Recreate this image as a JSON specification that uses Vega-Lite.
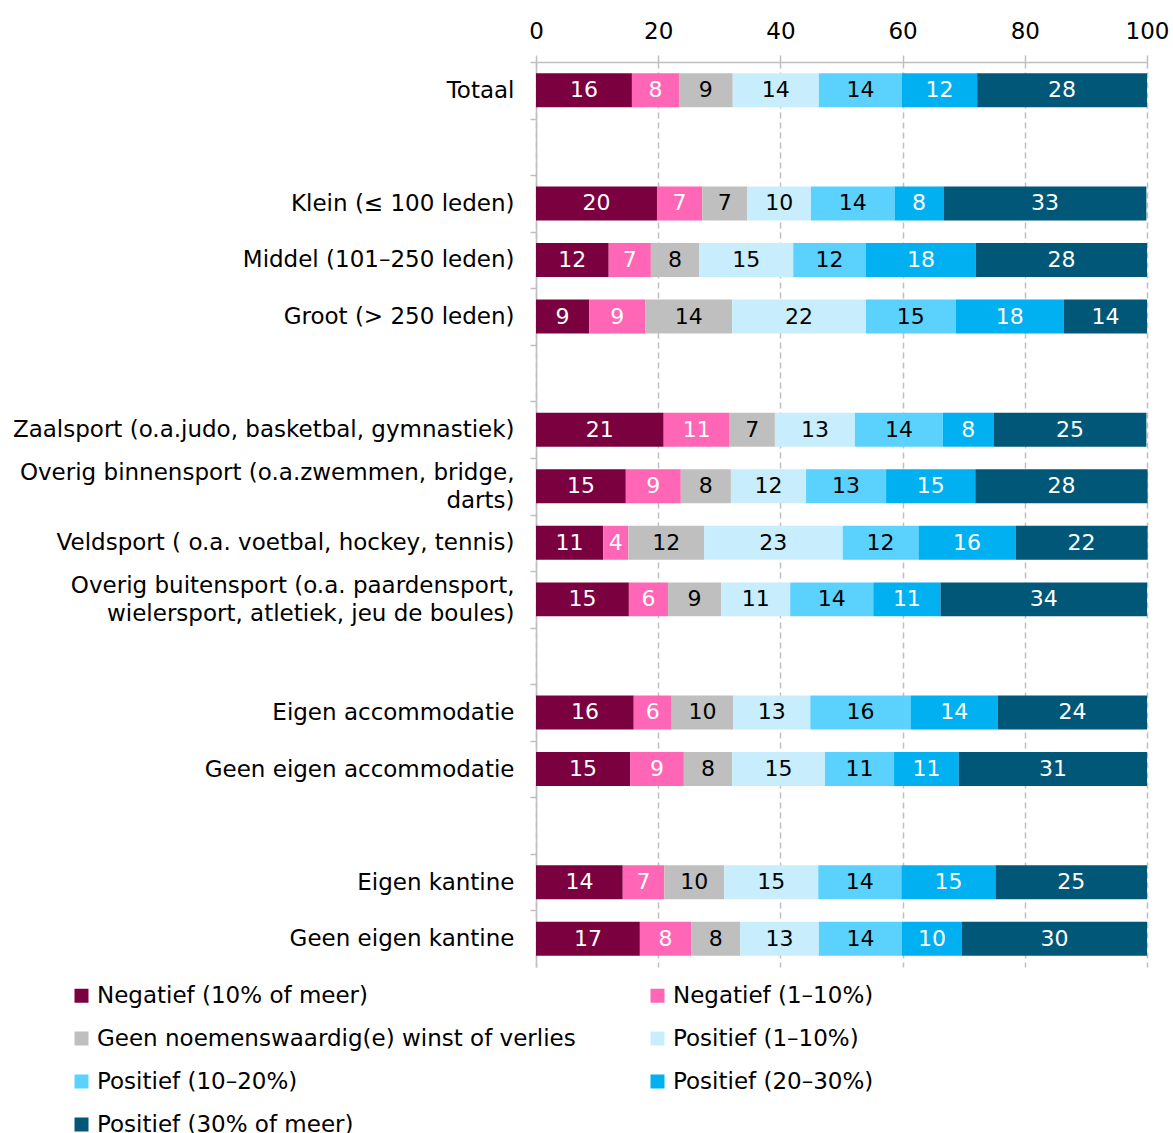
{
  "$schema": "https://vega.github.io/schema/vega-lite/v6.json",
  "autosize": "none",
  "width": 611,
  "height": 905,
  "padding": {"left": 536, "top": 62, "right": 26, "bottom": 166},
  "background": "white",
  "config": {
    "font": "DejaVu Sans",
    "view": {"stroke": null}
  },
  "data": {
    "values": [
      {"g": "Totaal", "k": 1, "v": 15.7}, {"g": "Totaal", "k": 2, "v": 7.7}, {"g": "Totaal", "k": 3, "v": 8.8}, {"g": "Totaal", "k": 4, "v": 14.1}, {"g": "Totaal", "k": 5, "v": 13.6}, {"g": "Totaal", "k": 6, "v": 12.3}, {"g": "Totaal", "k": 7, "v": 27.8},
      {"g": "Klein (≤ 100 leden)", "k": 1, "v": 19.8}, {"g": "Klein (≤ 100 leden)", "k": 2, "v": 7.4}, {"g": "Klein (≤ 100 leden)", "k": 3, "v": 7.4}, {"g": "Klein (≤ 100 leden)", "k": 4, "v": 10.4}, {"g": "Klein (≤ 100 leden)", "k": 5, "v": 13.7}, {"g": "Klein (≤ 100 leden)", "k": 6, "v": 8.0}, {"g": "Klein (≤ 100 leden)", "k": 7, "v": 33.2},
      {"g": "Middel (101–250 leden)", "k": 1, "v": 11.9}, {"g": "Middel (101–250 leden)", "k": 2, "v": 6.9}, {"g": "Middel (101–250 leden)", "k": 3, "v": 7.9}, {"g": "Middel (101–250 leden)", "k": 4, "v": 15.4}, {"g": "Middel (101–250 leden)", "k": 5, "v": 11.9}, {"g": "Middel (101–250 leden)", "k": 6, "v": 18.0}, {"g": "Middel (101–250 leden)", "k": 7, "v": 28.0},
      {"g": "Groot (> 250 leden)", "k": 1, "v": 8.7}, {"g": "Groot (> 250 leden)", "k": 2, "v": 9.2}, {"g": "Groot (> 250 leden)", "k": 3, "v": 14.2}, {"g": "Groot (> 250 leden)", "k": 4, "v": 21.9}, {"g": "Groot (> 250 leden)", "k": 5, "v": 14.7}, {"g": "Groot (> 250 leden)", "k": 6, "v": 17.7}, {"g": "Groot (> 250 leden)", "k": 7, "v": 13.6},
      {"g": "Zaalsport (o.a.judo, basketbal, gymnastiek)", "k": 1, "v": 20.9}, {"g": "Zaalsport (o.a.judo, basketbal, gymnastiek)", "k": 2, "v": 10.8}, {"g": "Zaalsport (o.a.judo, basketbal, gymnastiek)", "k": 3, "v": 7.4}, {"g": "Zaalsport (o.a.judo, basketbal, gymnastiek)", "k": 4, "v": 13.1}, {"g": "Zaalsport (o.a.judo, basketbal, gymnastiek)", "k": 5, "v": 14.4}, {"g": "Zaalsport (o.a.judo, basketbal, gymnastiek)", "k": 6, "v": 8.3}, {"g": "Zaalsport (o.a.judo, basketbal, gymnastiek)", "k": 7, "v": 25.0},
      {"g": "Overig binnensport (o.a.zwemmen, bridge,|darts)", "k": 1, "v": 14.7}, {"g": "Overig binnensport (o.a.zwemmen, bridge,|darts)", "k": 2, "v": 9.0}, {"g": "Overig binnensport (o.a.zwemmen, bridge,|darts)", "k": 3, "v": 8.2}, {"g": "Overig binnensport (o.a.zwemmen, bridge,|darts)", "k": 4, "v": 12.3}, {"g": "Overig binnensport (o.a.zwemmen, bridge,|darts)", "k": 5, "v": 13.1}, {"g": "Overig binnensport (o.a.zwemmen, bridge,|darts)", "k": 6, "v": 14.6}, {"g": "Overig binnensport (o.a.zwemmen, bridge,|darts)", "k": 7, "v": 28.2},
      {"g": "Veldsport ( o.a. voetbal, hockey, tennis)", "k": 1, "v": 11.0}, {"g": "Veldsport ( o.a. voetbal, hockey, tennis)", "k": 2, "v": 4.1}, {"g": "Veldsport ( o.a. voetbal, hockey, tennis)", "k": 3, "v": 12.4}, {"g": "Veldsport ( o.a. voetbal, hockey, tennis)", "k": 4, "v": 22.7}, {"g": "Veldsport ( o.a. voetbal, hockey, tennis)", "k": 5, "v": 12.4}, {"g": "Veldsport ( o.a. voetbal, hockey, tennis)", "k": 6, "v": 15.9}, {"g": "Veldsport ( o.a. voetbal, hockey, tennis)", "k": 7, "v": 21.6},
      {"g": "Overig buitensport (o.a. paardensport,|wielersport, atletiek, jeu de boules)", "k": 1, "v": 15.2}, {"g": "Overig buitensport (o.a. paardensport,|wielersport, atletiek, jeu de boules)", "k": 2, "v": 6.4}, {"g": "Overig buitensport (o.a. paardensport,|wielersport, atletiek, jeu de boules)", "k": 3, "v": 8.7}, {"g": "Overig buitensport (o.a. paardensport,|wielersport, atletiek, jeu de boules)", "k": 4, "v": 11.3}, {"g": "Overig buitensport (o.a. paardensport,|wielersport, atletiek, jeu de boules)", "k": 5, "v": 13.6}, {"g": "Overig buitensport (o.a. paardensport,|wielersport, atletiek, jeu de boules)", "k": 6, "v": 11.0}, {"g": "Overig buitensport (o.a. paardensport,|wielersport, atletiek, jeu de boules)", "k": 7, "v": 33.8},
      {"g": "Eigen accommodatie", "k": 1, "v": 16.0}, {"g": "Eigen accommodatie", "k": 2, "v": 6.2}, {"g": "Eigen accommodatie", "k": 3, "v": 10.1}, {"g": "Eigen accommodatie", "k": 4, "v": 12.6}, {"g": "Eigen accommodatie", "k": 5, "v": 16.4}, {"g": "Eigen accommodatie", "k": 6, "v": 14.3}, {"g": "Eigen accommodatie", "k": 7, "v": 24.4},
      {"g": "Geen eigen accommodatie", "k": 1, "v": 15.4}, {"g": "Geen eigen accommodatie", "k": 2, "v": 8.8}, {"g": "Geen eigen accommodatie", "k": 3, "v": 7.9}, {"g": "Geen eigen accommodatie", "k": 4, "v": 15.2}, {"g": "Geen eigen accommodatie", "k": 5, "v": 11.3}, {"g": "Geen eigen accommodatie", "k": 6, "v": 10.6}, {"g": "Geen eigen accommodatie", "k": 7, "v": 30.8},
      {"g": "Eigen kantine", "k": 1, "v": 14.2}, {"g": "Eigen kantine", "k": 2, "v": 6.8}, {"g": "Eigen kantine", "k": 3, "v": 9.8}, {"g": "Eigen kantine", "k": 4, "v": 15.4}, {"g": "Eigen kantine", "k": 5, "v": 13.6}, {"g": "Eigen kantine", "k": 6, "v": 15.4}, {"g": "Eigen kantine", "k": 7, "v": 24.8},
      {"g": "Geen eigen kantine", "k": 1, "v": 17.0}, {"g": "Geen eigen kantine", "k": 2, "v": 8.4}, {"g": "Geen eigen kantine", "k": 3, "v": 8.0}, {"g": "Geen eigen kantine", "k": 4, "v": 12.9}, {"g": "Geen eigen kantine", "k": 5, "v": 13.6}, {"g": "Geen eigen kantine", "k": 6, "v": 9.8}, {"g": "Geen eigen kantine", "k": 7, "v": 30.3}
    ]
  },
  "transform": [
    {"stack": "v", "groupby": ["g"], "sort": [{"field": "k", "order": "ascending"}], "as": ["x0", "x1"]}
  ],
  "layer": [
    {
      "mark": {"type": "bar"},
      "encoding": {
        "y": {
          "field": "g",
          "type": "nominal",
          "title": null,
          "scale": {
            "domain": ["Totaal", "_1", "Klein (≤ 100 leden)", "Middel (101–250 leden)", "Groot (> 250 leden)", "_2", "Zaalsport (o.a.judo, basketbal, gymnastiek)", "Overig binnensport (o.a.zwemmen, bridge,|darts)", "Veldsport ( o.a. voetbal, hockey, tennis)", "Overig buitensport (o.a. paardensport,|wielersport, atletiek, jeu de boules)", "_3", "Eigen accommodatie", "Geen eigen accommodatie", "_4", "Eigen kantine", "Geen eigen kantine"],
            "paddingInner": 0.4,
            "paddingOuter": 0.2
          },
          "axis": {
            "labelExpr": "indexof(datum.value, '_') == 0 ? '' : split(replace(replace(datum.value, '|darts)', '|darts)\u00a0\u00a0\u00a0\u00a0\u00a0\u00a0\u00a0\u00a0\u00a0\u00a0\u00a0\u00a0\u00a0\u00a0\u00a0\u00a0\u00a0\u00a0\u00a0\u00a0\u00a0\u00a0\u00a0\u00a0\u00a0\u00a0\u00a0\u00a0\u00a0'), 'boules)', 'boules)\u00a0\u00a0\u00a0'), '|')",
            "labelFontSize": 23,
            "labelColor": "black",
            "labelLineHeight": 28,
            "labelPadding": 16,
            "labelLimit": 700,
            "tickOffset": -28.28,
            "labelOffset": {"condition": {"test": "indexof(datum.value, '|') >= 0", "value": 14.28}, "value": 28.28},
            "tickSize": 6,
            "tickColor": "#BFBFBF",
            "domainColor": "#BFBFBF",
            "domainWidth": 1.5,
            "tickWidth": 1.5,
            "grid": false
          }
        },
        "x": {
          "field": "x0",
          "type": "quantitative",
          "scale": {"domain": [0, 100], "nice": false},
          "axis": {
            "orient": "top",
            "title": null,
            "values": [0, 20, 40, 60, 80, 100],
            "labelFontSize": 23,
            "labelColor": "black",
            "labelPadding": 12,
            "tickSize": 7,
            "tickColor": "#BFBFBF",
            "tickWidth": 1.5,
            "domainColor": "#BFBFBF",
            "domainWidth": 1.5,
            "grid": true,
            "gridColor": "#BFBFBF",
            "gridDash": [6, 4],
            "gridWidth": 1.5,
            "labelFlush": false
          }
        },
        "x2": {"field": "x1"},
        "color": {
          "field": "k",
          "type": "ordinal",
          "scale": {
            "domain": [1, 3, 5, 7, 2, 4, 6],
            "range": ["#7B003F", "#BFBFBF", "#5BD2FE", "#005778", "#FF66B5", "#C8EEFD", "#00B0F0"]
          },
          "legend": {
            "title": null,
            "orient": "none",
            "legendX": -466,
            "legendY": 922,
            "columns": 2,
            "columnPadding": 70,
            "rowPadding": 19,
            "symbolType": "square",
            "symbolSize": 196,
            "symbolStrokeWidth": 0,
            "labelFontSize": 23,
            "labelOffset": 4,
            "labelLimit": 700,
            "labelColor": "black",
            "padding": 0,
            "labelExpr": "['', 'Negatief (10% of meer)', 'Negatief (1–10%)', 'Geen noemenswaardig(e) winst of verlies', 'Positief (1–10%)', 'Positief (10–20%)', '\u00a0Positief (20–30%)', 'Positief (30% of meer)'][datum.value]"
          }
        }
      }
    },
    {
      "transform": [
        {"fold": ["x0", "x1"], "as": ["edge", "pos"]}
      ],
      "mark": {"type": "text", "fontSize": 22, "baseline": "middle", "align": "center"},
      "encoding": {
        "y": {"field": "g", "type": "nominal"},
        "x": {"field": "pos", "type": "quantitative", "aggregate": "mean"},
        "detail": {"field": "k", "type": "ordinal"},
        "text": {"field": "v", "type": "quantitative", "aggregate": "max", "format": ".0f"},
        "color": {
          "condition": {"test": "datum.k == 1 || datum.k == 2 || datum.k == 6 || datum.k == 7", "value": "white"},
          "value": "black"
        }
      }
    }
  ]
}
